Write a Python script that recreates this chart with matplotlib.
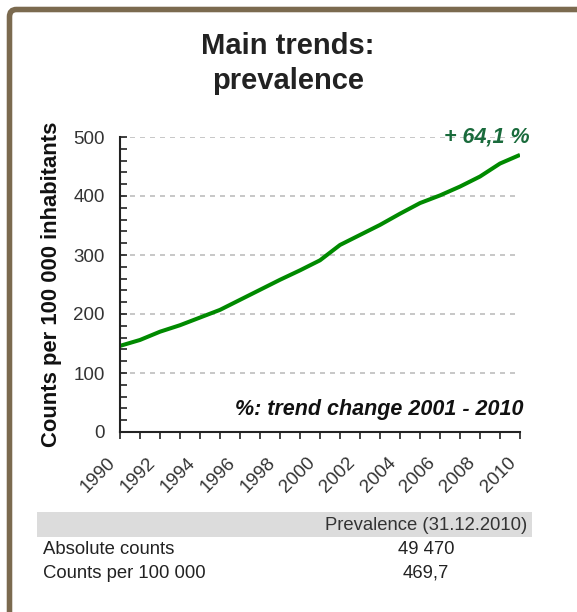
import matplotlib.pyplot as plt
import matplotlib.transforms as mtransforms
from matplotlib.patches import FancyBboxPatch, Rectangle

plt.rcParams['font.family'] = ['Liberation Sans', 'DejaVu Sans']

# prevalence per 100 000 inhabitants, 1990-2010
years = list(range(1990, 2011))
prevalence = [146, 156, 170, 181, 194, 207, 224, 241, 258, 274, 291,
              317, 334, 351, 370, 388, 401, 416, 433, 455, 469.7]

year_ticks = list(range(1990, 2011, 2))
trend_label = "+ 64,1 %"
note_label = "%: trend change 2001 - 2010"

table_header = "Prevalence (31.12.2010)"
row_names = ["Absolute counts", "Counts per 100 000"]
row_values = ["49 470", "469,7"]

W, H = 577, 612
fig = plt.figure(figsize=(W / 100, H / 100), dpi=100)

# brown frame, open on the right and bottom
frame = FancyBboxPatch((9.5 / W, -0.2), 1.2, 1.2 - 9.5 / H,
                       boxstyle="round,pad=0,rounding_size=0.012",
                       transform=fig.transFigure, fill=False,
                       edgecolor="#7b6a4f", linewidth=4, clip_on=False)
fig.patches.append(frame)

fig.text(288 / W, 1 - 46 / H, "Main trends:", ha="center", va="center",
         fontsize=21, fontweight="bold", color="#222222")
fig.text(288 / W, 1 - 81 / H, "prevalence", ha="center", va="center",
         fontsize=21, fontweight="bold", color="#222222")

ax = fig.add_axes([120 / W, 1 - 432 / H, 400 / W, 295 / H])
ax.plot(years, prevalence, color="#008a00", linewidth=2.9, solid_capstyle="butt")
ax.set_xlim(1990, 2010)
ax.set_ylim(0, 500)

ax.set_yticks(range(0, 501, 100))
ax.set_yticks(range(0, 501, 20), minor=True)
ax.set_xticks(years, minor=True)
ax.set_xticks(year_ticks)
ax.set_xticklabels([str(y) for y in year_ticks], rotation=45, ha="right",
                   rotation_mode="anchor", fontsize=13.5, color="#333333")
ax.tick_params(axis="y", which="both", direction="in", length=5, width=1.2,
               color="#222222", labelsize=13.5, labelcolor="#333333", pad=11)
ax.tick_params(axis="x", which="both", direction="out", length=5, width=1.2,
               color="#222222", pad=11)

# year labels sit a little left of their ticks
shift = mtransforms.ScaledTranslation(-13 / 100, 0, fig.dpi_scale_trans)
for lbl in ax.get_xticklabels():
    lbl.set_transform(lbl.get_transform() + shift)

for v in range(100, 501, 100):
    ax.axhline(v, color="#bdbdbd", linestyle=(0, (3, 3)), linewidth=1.2, zorder=0)

for side in ("top", "right"):
    ax.spines[side].set_visible(False)
for side in ("left", "bottom"):
    ax.spines[side].set_linewidth(1.5)
    ax.spines[side].set_color("#222222")

ax.set_ylabel("Counts per 100 000 inhabitants", fontsize=15.8,
              fontweight="bold", color="#111111", labelpad=8)

ax.text(1.025, 500, trend_label, transform=ax.get_yaxis_transform(),
        ha="right", va="center", fontsize=15.5, fontweight="bold",
        fontstyle="italic", color="#1a6b3c")
ax.text(1.008, 0.075, note_label, transform=ax.transAxes, ha="right",
        va="center", fontsize=15.5, fontweight="bold", fontstyle="italic",
        color="#111111")

# summary table below the chart
fig.patches.append(Rectangle((37 / W, 1 - 537 / H), 495 / W, 25 / H,
                             transform=fig.transFigure, facecolor="#dcdcdc",
                             edgecolor="none"))
fig.text(527 / W, 1 - 525 / H, table_header, ha="right", va="center",
         fontsize=13.3, color="#333333")
for i, (name, value) in enumerate(zip(row_names, row_values)):
    y = 1 - (550 + 23 * i) / H
    fig.text(43 / W, y, name, ha="left", va="center", fontsize=13.3,
             color="#222222")
    fig.text(426 / W, y, value, ha="center", va="center", fontsize=13.3,
             color="#222222")

fig.savefig("out.png", dpi=100)
